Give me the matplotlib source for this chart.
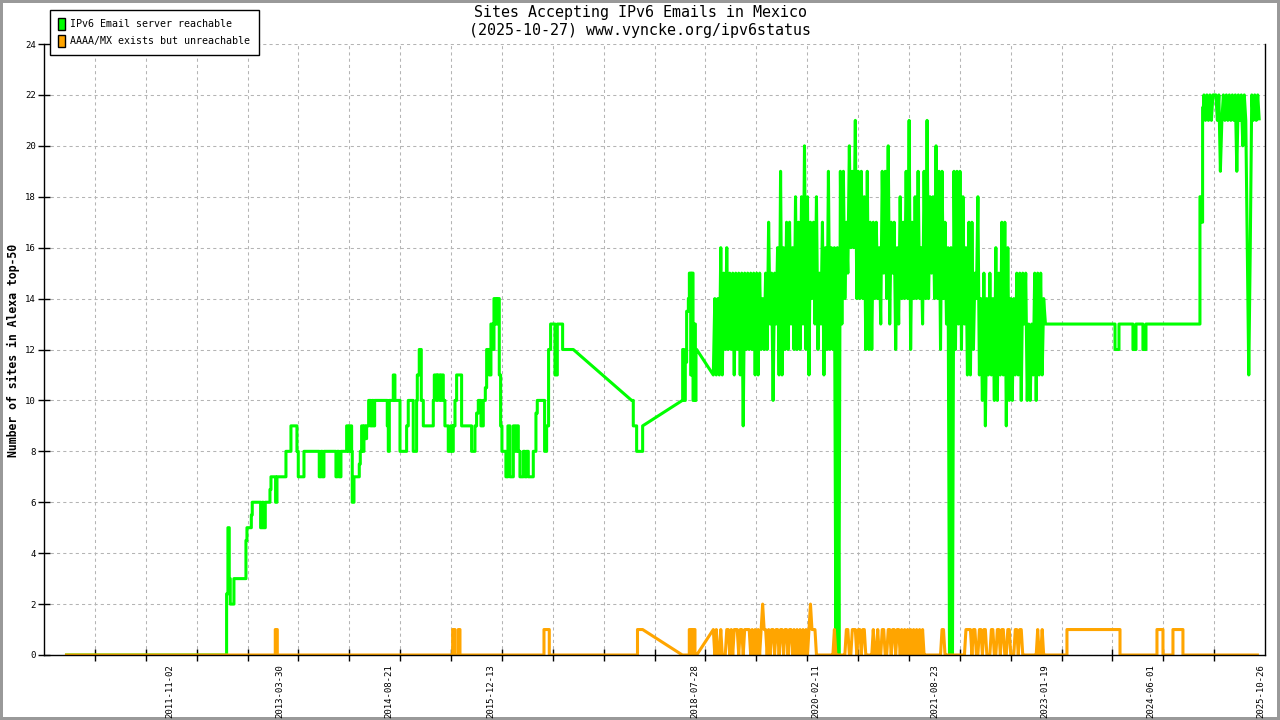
import numpy as np
import pandas as pd
import matplotlib
matplotlib.use("Agg")
import matplotlib.pyplot as plt
from matplotlib.patches import Patch
from matplotlib.ticker import FixedLocator, NullFormatter

plt.rcParams['font.family'] = ['DejaVu Sans Mono']
plt.rcParams['path.simplify'] = False

GREEN = '#00ff00'
ORANGE = '#ffa500'

# x values are decimal years, (year, value) = value from that date on
green_early = [
    (2010.49, 0), (2012.562, 2.4), (2012.579, 5), (2012.596, 3), (2012.609, 2), (2012.656, 3),
    (2012.810, 4.5), (2012.823, 5), (2012.879, 5.5), (2012.891, 6), (2012.998, 5), (2013.020, 6),
    (2013.032, 5), (2013.058, 6), (2013.118, 6.5), (2013.131, 7), (2013.190, 6), (2013.208, 7),
    (2013.323, 8), (2013.387, 9), (2013.464, 8), (2013.481, 7), (2013.554, 8), (2013.750, 7),
    (2013.772, 8), (2013.789, 7), (2013.810, 8), (2013.964, 7), (2013.981, 8), (2014.002, 7),
    (2014.028, 8), (2014.101, 9), (2014.122, 8), (2014.139, 9), (2014.165, 8), (2014.173, 6),
    (2014.195, 7), (2014.263, 7.5), (2014.276, 8), (2014.293, 9), (2014.306, 8), (2014.323, 9),
    (2014.340, 8.5), (2014.357, 9), (2014.383, 10), (2014.408, 9), (2014.426, 10), (2014.443, 9),
    (2014.460, 10), (2014.622, 9), (2014.635, 8), (2014.648, 10), (2014.699, 11), (2014.720, 10),
    (2014.785, 8), (2014.870, 9), (2014.891, 10), (2014.955, 8), (2014.998, 10), (2015.007, 11),
    (2015.032, 12), (2015.058, 10), (2015.084, 9), (2015.212, 10), (2015.225, 11), (2015.255, 10),
    (2015.267, 11), (2015.297, 10), (2015.314, 11), (2015.340, 10), (2015.361, 9), (2015.404, 8),
    (2015.434, 9), (2015.455, 8), (2015.468, 9), (2015.490, 10), (2015.511, 11), (2015.575, 9),
    (2015.703, 8), (2015.746, 9), (2015.767, 9.5), (2015.789, 10), (2015.823, 9), (2015.853, 10),
    (2015.879, 10.5), (2015.896, 12), (2015.930, 11), (2015.951, 13), (2015.973, 12), (2015.990, 14),
    (2016.015, 13), (2016.032, 14), (2016.058, 11), (2016.075, 9), (2016.092, 8), (2016.143, 7),
    (2016.169, 9), (2016.195, 7), (2016.238, 9), (2016.259, 8), (2016.280, 9), (2016.302, 8),
    (2016.323, 7), (2016.366, 8), (2016.387, 7), (2016.408, 8), (2016.430, 7), (2016.494, 8),
    (2016.528, 9.5), (2016.545, 10), (2016.639, 8), (2016.665, 9), (2016.690, 12), (2016.716, 13),
    (2016.772, 11), (2016.802, 13), (2016.870, 12),
]
green_early_end = 2017.007

green_dip = [(2017.755, 10), (2017.776, 9), (2017.819, 8), (2017.896, 9)]
green_dip_end = 2017.896

green_2018 = [
    (2018.405, 10), (2018.409, 12), (2018.426, 10), (2018.443, 11.5), (2018.460, 13.5),
    (2018.482, 14), (2018.495, 15), (2018.512, 11), (2018.525, 15), (2018.542, 10),
    (2018.559, 13), (2018.572, 10), (2018.580, 12),
]
green_2018_end = 2018.589

# busy period: weekly runs from dense_start, low/high pairs
dense_start = 2018.802
green_dense = [
    11, 14, 11, 14, 11, 16, 11, 15, 12, 16, 12, 15, 12, 15, 11, 15, 12, 15, 11, 15,
    9, 15, 12, 15, 12, 15, 12, 15, 11, 15, 11, 15, 12, 14, 12, 15, 12, 17, 13, 15,
    10, 15, 13, 16, 11, 19, 11, 16, 12, 17, 12, 17, 13, 16, 12, 18, 12, 17, 12, 18,
    13, 20, 12, 18, 11, 17, 14, 17, 13, 18, 12, 15, 13, 17, 11, 16, 12, 19, 12, 16,
    12, 16, 0, 16, 0, 19, 13, 19, 14, 17, 15, 20, 16, 19, 16, 21, 14, 19, 14, 19,
    14, 18, 12, 19, 12, 17, 12, 17, 14, 17, 14, 16, 13, 19, 15, 19, 14, 20, 13, 17,
    15, 17, 12, 16, 13, 18, 14, 17, 14, 19, 14, 21, 12, 17, 14, 18, 14, 19, 14, 16,
    13, 19, 14, 21, 14, 18, 15, 18, 14, 20, 14, 19, 12, 19, 14, 17, 13, 16, 0, 16,
    0, 19, 12, 19, 13, 19, 12, 18, 13, 16, 11, 17, 11, 17, 12, 15, 14, 18, 11, 14,
    10, 15, 9, 14, 11, 15, 11, 14, 10, 16, 10, 15, 11, 17, 11, 17, 9, 16, 10, 14,
    10, 14, 11, 15, 11, 15, 10, 15, 13, 15, 10, 13, 10, 13, 11, 15, 10, 15, 11, 15,
    11, 14,
]

green_late = [
    (2023.060, 13), (2023.952, 12), (2024.003, 13), (2024.182, 12), (2024.221, 13),
    (2024.310, 12), (2024.349, 13), (2025.041, 18), (2025.058, 17), (2025.075, 21.5),
]
green_late_end = 2025.085

# 2025 runs, weekly from late_start
late_start = 2025.092
green_2025 = [
    22, 21, 22, 21, 22, 21, 22, 22, 22, 21, 22, 19, 21, 22, 21, 22, 21, 22, 21, 22,
    21, 22, 19, 22, 21, 22, 20, 22, 21, 16, 11, 16, 22, 21, 22, 21, 22, 21,
]

orange_early = [
    (2010.49, 0), (2013.186, 1), (2013.212, 0), (2015.460, 1), (2015.490, 0),
    (2015.532, 1), (2015.554, 0), (2016.631, 1), (2016.699, 0), (2017.830, 1),
]
orange_early_end = 2017.896

orange_2018 = [(2018.405, 0), (2018.494, 1), (2018.524, 0), (2018.537, 1), (2018.567, 0)]
orange_2018_end = 2018.589

orange_dense = [
    1, 0, 1, 0, 0, 1, 0, 0, 0, 1, 1, 0, 1, 0, 1, 1, 1, 0, 1, 1,
    0, 1, 1, 1, 1, 0, 1, 0, 1, 0, 1, 0, 1, 2, 1, 1, 0, 1, 0, 1,
    1, 0, 1, 1, 0, 1, 1, 0, 1, 1, 0, 1, 1, 0, 1, 0, 1, 0, 1, 0,
    1, 0, 1, 0, 1, 2, 1, 1, 1, 0, 0, 0, 0, 0, 0, 0, 0, 0, 0, 0,
    0, 1, 0, 0, 0, 0, 0, 0, 0, 1, 1, 0, 0, 1, 1, 1, 0, 1, 1, 0,
    1, 1, 0, 0, 0, 0, 0, 1, 0, 0, 1, 0, 0, 1, 1, 0, 0, 1, 1, 0,
    1, 1, 0, 1, 1, 0, 1, 0, 1, 0, 1, 0, 1, 0, 1, 0, 1, 0, 1, 0,
    1, 0, 0, 0, 0, 0, 0, 0, 0, 0, 0, 0, 0, 1, 1, 0, 0, 0, 0, 0,
    0, 0, 0, 0, 0, 0, 0, 0, 0, 1, 1, 1, 1, 0, 1, 1, 0, 0, 1, 1,
    0, 1, 1, 0, 0, 0, 1, 1, 0, 0, 1, 1, 0, 1, 1, 0, 0, 1, 1, 0,
    0, 0, 1, 1, 0, 1, 1, 0, 0, 0, 0, 0, 0, 0, 0, 0, 0, 1, 0, 0,
    1, 0,
]

orange_late = [
    (2023.060, 0), (2023.336, 1), (2024.016, 0), (2024.490, 1), (2024.567, 0),
    (2024.695, 1), (2024.823, 0),
]
orange_late_end = 2025.797

tick_dates = ["2011-11-02", "2013-03-30", "2014-08-21", "2015-12-13", "2018-07-28",
              "2020-02-11", "2021-08-23", "2023-01-19", "2024-06-01", "2025-10-26"]


def steps(points, x_end):
    xs, ys = [], []
    for i, (x, y) in enumerate(points):
        if i:
            xs.append(x)
            ys.append(points[i - 1][1])
        xs.append(x)
        ys.append(y)
    xs.append(x_end)
    ys.append(points[-1][1])
    return xs, ys


def weekly(start, values):
    x = start + np.arange(len(values)) * 7 / 365.25
    return list(x), list(values)


def join(*parts):
    xs, ys = [], []
    for px, py in parts:
        xs += px
        ys += py
    return xs, ys


def dec_year(s):
    d = pd.Timestamp(s)
    return d.year + (d.dayofyear - 0.5) / (366 if d.is_leap_year else 365)


gx, gy = join(steps(green_early, green_early_end), steps(green_dip, green_dip_end),
              steps(green_2018, green_2018_end), weekly(dense_start, green_dense),
              steps(green_late, green_late_end), weekly(late_start, green_2025))
ox, oy = join(steps(orange_early, orange_early_end), steps(orange_2018, orange_2018_end),
              weekly(dense_start, orange_dense), steps(orange_late, orange_late_end))

fig = plt.figure(figsize=(12.8, 7.2), dpi=100)
fig.patch.set_edgecolor('#999999')
fig.patch.set_linewidth(3)
ax = fig.add_axes([44 / 1280, 65 / 720, 1221 / 1280, 611 / 720])

x0, x1 = 2010.221, 2025.875
ax.set_xlim(x0, x1)
ax.set_ylim(0, 24)

ax.plot(gx, gy, color=GREEN, lw=2.2, solid_capstyle='butt')
ax.plot(ox, oy, color=ORANGE, lw=2.2, solid_capstyle='butt')

for s in ['left', 'bottom', 'right']:
    ax.spines[s].set_linewidth(1.0)
ax.spines['top'].set_visible(False)

ax.set_yticks(range(0, 25, 2))
ax.tick_params(axis='y', direction='inout', length=8, width=1, labelsize=6.5, pad=2)

ax.xaxis.set_major_locator(FixedLocator([dec_year(d) for d in tick_dates]))
ax.set_xticklabels(tick_dates, rotation=90, fontsize=6.5)
ax.tick_params(axis='x', which='major', length=0, pad=7)
ax.xaxis.set_minor_locator(FixedLocator([x0 + k * (x1 - x0) / 24 for k in range(1, 24)]))
ax.xaxis.set_minor_formatter(NullFormatter())
ax.tick_params(axis='x', which='minor', direction='inout', length=8, width=1)

grid_style = dict(color='#b4b4b4', linestyle=(0, (3, 3)), linewidth=0.75)
ax.grid(False)
ax.xaxis.grid(True, which='minor', **grid_style)
ax.yaxis.grid(True, which='major', **grid_style)
ax.set_axisbelow(True)

fig.text(0.5, 1 - 13 / 720, "Sites Accepting IPv6 Emails in Mexico",
         ha='center', va='center', fontsize=10.8)
fig.text(0.5, 1 - 31 / 720, "(2025-10-27) www.vyncke.org/ipv6status",
         ha='center', va='center', fontsize=10.8)
fig.text(13 / 1280, 1 - 350 / 720, "Number of sites in Alexa top-50",
         rotation=90, ha='center', va='center', fontsize=8.3, fontweight='bold')

handles = [Patch(facecolor=GREEN, edgecolor='black', linewidth=1),
           Patch(facecolor=ORANGE, edgecolor='black', linewidth=1)]
leg = fig.legend(handles, ["IPv6 Email server reachable", "AAAA/MX exists but unreachable"],
                 loc='upper left', bbox_to_anchor=(50 / 1280, 1 - 10 / 720),
                 fontsize=7.2, frameon=True, fancybox=False, framealpha=1,
                 edgecolor='black', handlelength=0.7, handleheight=1.5,
                 handletextpad=0.55, borderpad=0.8, labelspacing=0.45, borderaxespad=0)
leg.get_frame().set_linewidth(1.0)

fig.savefig("out.png", dpi=100, edgecolor=fig.get_edgecolor())
